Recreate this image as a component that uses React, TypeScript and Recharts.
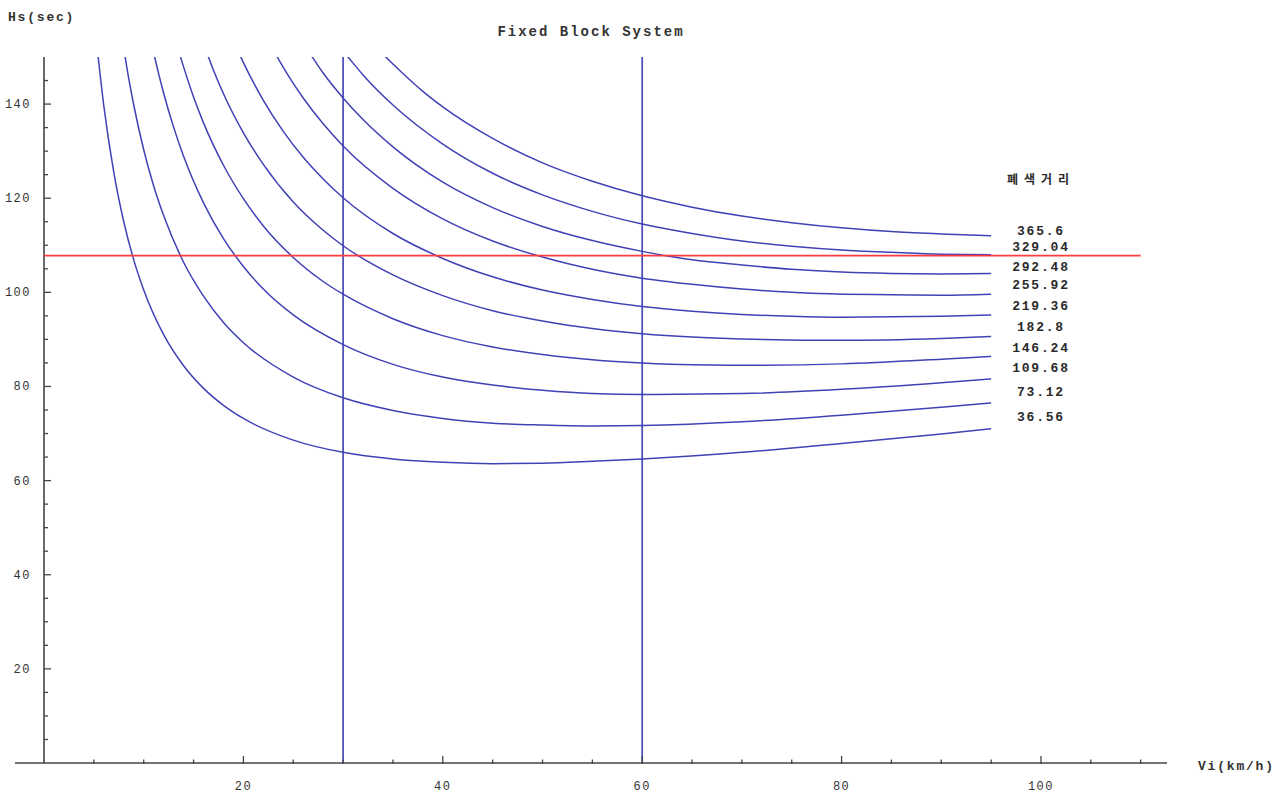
import {
  ComposedChart,
  Line,
  XAxis,
  YAxis,
  ReferenceLine,
  Scatter,
} from "recharts";

// block distance (m) of each headway curve, bottom to top
const blockDistances = ["36.56", "73.12", "109.68", "146.24", "182.8", "219.36", "255.92", "292.48", "329.04", "365.6"];

// headway Hs (sec) against speed Vi (km/h)
const curve36 = [
  { v: 5.4, hs: 150.6 }, { v: 6, hs: 139.6 }, { v: 7, hs: 125.5 }, { v: 8, hs: 115.0 },
  { v: 9, hs: 106.9 }, { v: 10, hs: 100.5 }, { v: 12, hs: 91.0 }, { v: 14, hs: 84.4 },
  { v: 16, hs: 79.6 }, { v: 18, hs: 76.0 }, { v: 20, hs: 73.2 }, { v: 25, hs: 68.6 },
  { v: 30, hs: 66.0 }, { v: 35, hs: 64.6 }, { v: 40, hs: 63.9 }, { v: 45, hs: 63.6 },
  { v: 50, hs: 63.7 }, { v: 55, hs: 64.1 }, { v: 60, hs: 64.6 }, { v: 70, hs: 66.0 },
  { v: 80, hs: 67.9 }, { v: 90, hs: 69.9 }, { v: 95, hs: 71.0 },
];
const curve73 = [
  { v: 7.9, hs: 153.1 }, { v: 8.5, hs: 145.4 }, { v: 9, hs: 139.8 }, { v: 10, hs: 130.3 },
  { v: 11, hs: 122.6 }, { v: 12, hs: 116.3 }, { v: 14, hs: 106.4 }, { v: 16, hs: 99.2 },
  { v: 18, hs: 93.6 }, { v: 20, hs: 89.3 }, { v: 25, hs: 82.0 }, { v: 30, hs: 77.6 },
  { v: 35, hs: 74.9 }, { v: 40, hs: 73.2 }, { v: 45, hs: 72.2 }, { v: 50, hs: 71.8 },
  { v: 55, hs: 71.6 }, { v: 60, hs: 71.7 }, { v: 70, hs: 72.5 }, { v: 80, hs: 73.9 },
  { v: 90, hs: 75.6 }, { v: 95, hs: 76.5 },
];
const curve110 = [
  { v: 10.7, hs: 153.8 }, { v: 11, hs: 150.9 }, { v: 12, hs: 142.3 }, { v: 13, hs: 135.1 },
  { v: 14, hs: 128.9 }, { v: 16, hs: 119.0 }, { v: 18, hs: 111.4 }, { v: 20, hs: 105.5 },
  { v: 22, hs: 100.7 }, { v: 25, hs: 95.2 }, { v: 30, hs: 88.9 }, { v: 35, hs: 84.7 },
  { v: 40, hs: 82.0 }, { v: 45, hs: 80.3 }, { v: 50, hs: 79.2 }, { v: 55, hs: 78.5 },
  { v: 60, hs: 78.3 }, { v: 70, hs: 78.5 }, { v: 80, hs: 79.4 }, { v: 90, hs: 80.8 },
  { v: 95, hs: 81.6 },
];
const curve146 = [
  { v: 13.5, hs: 151.3 }, { v: 14, hs: 147.9 }, { v: 15, hs: 141.5 }, { v: 16, hs: 136.0 },
  { v: 18, hs: 127.0 }, { v: 20, hs: 119.9 }, { v: 22, hs: 114.1 }, { v: 25, hs: 107.4 },
  { v: 28, hs: 102.3 }, { v: 30, hs: 99.6 }, { v: 35, hs: 94.4 }, { v: 40, hs: 90.8 },
  { v: 45, hs: 88.4 }, { v: 50, hs: 86.8 }, { v: 55, hs: 85.7 }, { v: 60, hs: 85.0 },
  { v: 65, hs: 84.6 }, { v: 70, hs: 84.5 }, { v: 80, hs: 84.8 }, { v: 90, hs: 85.8 },
  { v: 95, hs: 86.4 },
];
const curve183 = [
  { v: 16, hs: 152.8 }, { v: 17, hs: 147.2 }, { v: 18, hs: 142.2 }, { v: 20, hs: 133.9 },
  { v: 22, hs: 127.2 }, { v: 25, hs: 119.2 }, { v: 28, hs: 113.2 }, { v: 30, hs: 109.9 },
  { v: 35, hs: 103.7 }, { v: 40, hs: 99.3 }, { v: 45, hs: 96.1 }, { v: 50, hs: 93.9 },
  { v: 55, hs: 92.3 }, { v: 60, hs: 91.2 }, { v: 65, hs: 90.5 }, { v: 70, hs: 90.1 },
  { v: 80, hs: 89.8 }, { v: 90, hs: 90.2 }, { v: 95, hs: 90.6 },
];
const curve219 = [
  { v: 19.5, hs: 151.1 }, { v: 20, hs: 148.8 }, { v: 21, hs: 144.6 }, { v: 22, hs: 140.8 },
  { v: 24, hs: 134.2 }, { v: 26, hs: 128.7 }, { v: 28, hs: 124.1 }, { v: 30, hs: 120.1 },
  { v: 35, hs: 112.5 }, { v: 40, hs: 107.2 }, { v: 45, hs: 103.3 }, { v: 50, hs: 100.5 },
  { v: 55, hs: 98.5 }, { v: 60, hs: 97.0 }, { v: 65, hs: 96.0 }, { v: 70, hs: 95.3 },
  { v: 75, hs: 94.9 }, { v: 80, hs: 94.7 }, { v: 90, hs: 94.9 }, { v: 95, hs: 95.2 },
];
const curve256 = [
  { v: 23, hs: 151.5 }, { v: 24, hs: 147.8 }, { v: 25, hs: 144.4 }, { v: 26, hs: 141.3 },
  { v: 28, hs: 135.8 }, { v: 30, hs: 131.1 }, { v: 35, hs: 122.1 }, { v: 40, hs: 115.6 },
  { v: 45, hs: 110.9 }, { v: 50, hs: 107.5 }, { v: 55, hs: 104.9 }, { v: 60, hs: 103.0 },
  { v: 65, hs: 101.7 }, { v: 70, hs: 100.7 }, { v: 75, hs: 100.0 }, { v: 80, hs: 99.6 },
  { v: 85, hs: 99.5 }, { v: 90, hs: 99.4 }, { v: 95, hs: 99.6 },
];
const curve292 = [
  { v: 26.5, hs: 151.2 }, { v: 27, hs: 149.7 }, { v: 28, hs: 146.6 }, { v: 30, hs: 141.3 },
  { v: 32, hs: 136.7 }, { v: 35, hs: 130.9 }, { v: 40, hs: 123.4 }, { v: 45, hs: 118.0 },
  { v: 50, hs: 114.0 }, { v: 55, hs: 111.0 }, { v: 60, hs: 108.7 }, { v: 65, hs: 106.9 },
  { v: 70, hs: 105.8 }, { v: 75, hs: 104.9 }, { v: 80, hs: 104.3 }, { v: 85, hs: 104.0 },
  { v: 90, hs: 103.9 }, { v: 95, hs: 104.0 },
];
const curve329 = [
  { v: 30, hs: 151.3 }, { v: 31, hs: 148.7 }, { v: 32, hs: 146.2 }, { v: 35, hs: 139.8 },
  { v: 40, hs: 131.5 }, { v: 45, hs: 125.3 }, { v: 50, hs: 120.7 }, { v: 55, hs: 117.2 },
  { v: 60, hs: 114.5 }, { v: 65, hs: 112.5 }, { v: 70, hs: 110.9 }, { v: 75, hs: 109.8 },
  { v: 80, hs: 109.0 }, { v: 85, hs: 108.5 }, { v: 90, hs: 108.1 }, { v: 95, hs: 108.0 },
];
const curve366 = [
  { v: 34, hs: 150.6 }, { v: 35, hs: 148.5 }, { v: 36, hs: 146.5 }, { v: 38, hs: 142.7 },
  { v: 40, hs: 139.4 }, { v: 45, hs: 132.7 }, { v: 50, hs: 127.5 }, { v: 55, hs: 123.6 },
  { v: 60, hs: 120.5 }, { v: 65, hs: 118.1 }, { v: 70, hs: 116.2 }, { v: 75, hs: 114.8 },
  { v: 80, hs: 113.7 }, { v: 85, hs: 112.9 }, { v: 90, hs: 112.4 }, { v: 95, hs: 112.0 },
];

const curves = [curve36, curve73, curve110, curve146, curve183, curve219, curve256, curve292, curve329, curve366];

// where the distance labels sit (same order as blockDistances)
const labelV = 100;
const labelHs = [73.5, 78.8, 83.9, 88.2, 92.7, 97.1, 101.6, 105.4, 109.7, 113.1];
const labelHeader = "폐색거리";
const labelHeaderHs = 123.9;

const markerSpeeds = [30, 60];
const limitHeadway = 107.8;
const limitFrom = 0;
const limitTo = 110;

const xTicks = [5, 10, 15, 20, 25, 30, 35, 40, 45, 50, 55, 60, 65, 70, 75, 80, 85, 90, 95, 100, 105, 110];
const yTicks = [5, 10, 15, 20, 25, 30, 35, 40, 45, 50, 55, 60, 65, 70, 75, 80, 85, 90, 95, 100, 105, 110, 115, 120, 125, 130, 135, 140, 145];

const W = 1286;
const H = 795;
const X_MIN = -2.91;
const X_MAX = 112.64;
const PLOT_LEFT = 15;
const PLOT_RIGHT = 1167;
// y axis is drawn at v = 0, a little right of the plot edge
const Y_AXIS_SHIFT = ((0 - X_MIN) / (X_MAX - X_MIN)) * (PLOT_RIGHT - PLOT_LEFT);

const mono = "'Liberation Mono', 'DejaVu Sans Mono', monospace";
const axisColor = "#444";
const curveColor = "#4141b6";

function XTick(props: any) {
  const { x, y, payload } = props;
  const major = payload.value % 20 === 0;
  return (
    <g>
      <line x1={x} x2={x} y1={y + 1} y2={y - (major ? 7 : 3.5)} stroke={axisColor} strokeWidth={1.3} />
      {major && (
        <text x={x} y={y + 27} textAnchor="middle" fontFamily={mono} fontSize={12} letterSpacing={1.5} fill="#333">
          {payload.value}
        </text>
      )}
    </g>
  );
}

function YTick(props: any) {
  const { x, y, payload } = props;
  const ax = x + Y_AXIS_SHIFT;
  const major = payload.value % 20 === 0;
  return (
    <g>
      <line x1={ax} x2={ax + (major ? 7 : 4)} y1={y} y2={y} stroke={axisColor} strokeWidth={1.3} />
      {major && (
        <text x={ax - 13} y={y + 4} textAnchor="end" fontFamily={mono} fontSize={12} letterSpacing={1.5} fill="#333">
          {payload.value}
        </text>
      )}
    </g>
  );
}

function LabelText(props: any) {
  const { cx, cy, payload } = props;
  const header = payload.header;
  return (
    <text
      x={cx}
      y={cy + 4}
      textAnchor="middle"
      fontFamily={header ? "'Noto Sans CJK KR', sans-serif" : mono}
      fontSize={header ? 12 : 13}
      fontWeight={700}
      letterSpacing={header ? 6 : 1.8}
      fill="#2a2a2a"
    >
      {payload.text}
    </text>
  );
}

export default function App() {
  const labels = [
    ...blockDistances.map((d, i) => ({ v: labelV, hs: labelHs[i], text: d, header: false })),
    { v: labelV, hs: labelHeaderHs, text: labelHeader, header: true },
  ];

  return (
    <div style={{ position: "absolute", left: 0, top: 0, width: W, height: H, background: "#fff" }}>
      <ComposedChart width={W} height={H} margin={{ top: 57, right: W - PLOT_RIGHT, bottom: 0, left: 0 }}>
        <XAxis
          dataKey="v"
          type="number"
          domain={[X_MIN, X_MAX]}
          allowDataOverflow
          ticks={xTicks}
          interval={0}
          height={32}
          tickSize={0}
          tickMargin={0}
          tickLine={false}
          tick={<XTick />}
          axisLine={{ stroke: axisColor, strokeWidth: 1.6 }}
        />
        <YAxis
          dataKey="hs"
          type="number"
          domain={[0, 150]}
          allowDataOverflow
          ticks={yTicks}
          interval={0}
          width={PLOT_LEFT}
          tickSize={0}
          tickMargin={0}
          tickLine={false}
          axisLine={false}
          tick={<YTick />}
        />
        <ReferenceLine x={0} stroke={axisColor} strokeWidth={1.6} />
        {markerSpeeds.map((s) => (
          <ReferenceLine key={s} x={s} stroke="#4a4ab6" strokeWidth={1.7} />
        ))}
        {curves.map((c, i) => (
          <Line
            key={blockDistances[i]}
            data={c}
            dataKey="hs"
            type="monotone"
            stroke={curveColor}
            strokeWidth={1.5}
            dot={false}
            activeDot={false}
            isAnimationActive={false}
          />
        ))}
        <ReferenceLine
          segment={[
            { x: limitFrom, y: limitHeadway },
            { x: limitTo, y: limitHeadway },
          ]}
          stroke="#ff3b3b"
          strokeWidth={1.6}
        />
        <Scatter data={labels} dataKey="hs" shape={<LabelText />} isAnimationActive={false} />
        <text x={591} y={36} textAnchor="middle" fontFamily={mono} fontSize={14} fontWeight={700} letterSpacing={2} fill="#333">
          Fixed Block System
        </text>
        <text x={8} y={21} fontFamily={mono} fontSize={13} fontWeight={700} letterSpacing={1.8} fill="#333">
          Hs(sec)
        </text>
        <text x={1198} y={770} fontFamily={mono} fontSize={13} fontWeight={700} letterSpacing={1.8} fill="#333">
          Vi(km/h)
        </text>
      </ComposedChart>
    </div>
  );
}
